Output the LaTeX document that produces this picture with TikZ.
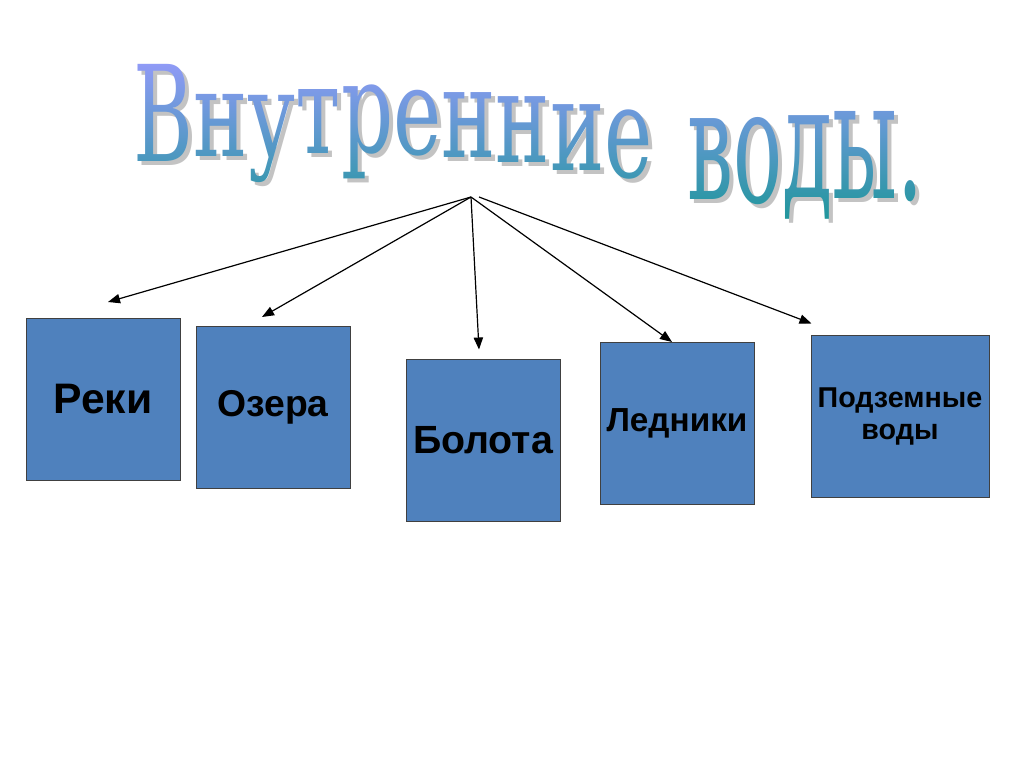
\documentclass[tikz,border=0pt]{standalone}
\usepackage{fontspec}
\setmainfont{Liberation Sans}
\newfontfamily\wordart{DejaVu Serif Condensed}
\usetikzlibrary{arrows.meta,fadings}
\definecolor{boxblue}{RGB}{79,129,189}
\definecolor{ttltop}{RGB}{155,155,255}
\definecolor{ttlbot}{RGB}{25,150,150}
\definecolor{ttlshade}{RGB}{195,195,195}

% letter / baseline / vertical stretch of the title
\newcommand\ttlletters{В/161/1.47, н/156/1.32, у/156/1.3, т/153/1.36, р/152/1.4, е/154/1.33, н/157/1.38, н/162/1.4, и/170/1.4, е/177/1.4, {\kern26pt}/185/1.5, в/199/1.72, о/202/1.76, д/197/1.74, ы/198/1.85, {.}/199/1.8}

\begin{tikzfadingfrompicture}[name=ttlfade, x=0.75pt, y=-0.75pt]
  \useasboundingbox (-420,-90) rectangle (420,90);
  \node[inner sep=0, outer sep=0] (t0) at (-403,0) {};
  \foreach \ch/\b/\s [count=\i, remember=\i as \j (initially 0)] in \ttlletters
    \node[anchor=base west, inner sep=0, outer sep=0, yscale=\s, text=transparent!0,
          font={\wordart\fontsize{68}{68}\selectfont}]
          (t\i) at (t\j.base east |- 0,\b-138) {\ch};
\end{tikzfadingfrompicture}

\begin{document}
\begin{tikzpicture}[x=0.75pt, y=-0.75pt,
    box/.style={draw=black!75, line width=0.75pt, fill=boxblue, minimum width=115.5pt,
                minimum height=121.5pt, align=center, font=\bfseries\fontsize{29.5}{34}\selectfont},
    arr/.style={-{Triangle[length=9pt,width=7pt]}, line width=0.9pt},
    shd/.style={anchor=base west, inner sep=0, outer sep=0, text=ttlshade,
                font={\wordart\fontsize{68}{68}\selectfont}}]
  \useasboundingbox[fill=white] (0,0) rectangle (1024,767);

  % title: grey shadow, then gradient letters
  \node[inner sep=0, outer sep=0] (s0) at (137,0) {};
  \foreach \ch/\b/\s [count=\i, remember=\i as \j (initially 0)] in \ttlletters
    \node[shd, yscale=\s] (s\i) at (s\j.base east |- 0,\b+4) {\ch};
  \shade[path fading=ttlfade, fit fading=false, fading transform={shift={(536,138)}},
         top color=ttltop, bottom color=ttlbot]
        (116,48) rectangle (956,228);

  \node[box, font=\bfseries\fontsize{32}{36}\selectfont] (reki) at (103,399.5) {Реки};
  \node[box, font=\bfseries\fontsize{28}{34}\selectfont] (ozera) at (273,407.5) {Озера};
  \node[box] (bolota) at (483,440) {Болота};
  \node[box, font=\bfseries\fontsize{25}{28}\selectfont] (ledniki) at (677,423.5) {Ледники};
  \node[box, minimum width=133.5pt, font=\bfseries\fontsize{21.5}{24}\selectfont]
        (podz) at (900,416) {Подземные\\воды};

  \coordinate (hub) at (471,197);
  \coordinate (hubR) at (479,197);
  \draw[arr] (hub) -- ([shift={(5,-16)}]reki.north);
  \draw[arr] (hub) -- ([shift={(-11,-9)}]ozera.north);
  \draw[arr] (hub) -- ([shift={(-4,-9)}]bolota.north);
  \draw[arr] (hub) -- ([shift={(-5,0)}]ledniki.north);
  \draw[arr] (hubR) -- ([shift={(1,-11)}]podz.north west);
\end{tikzpicture}
\end{document}
